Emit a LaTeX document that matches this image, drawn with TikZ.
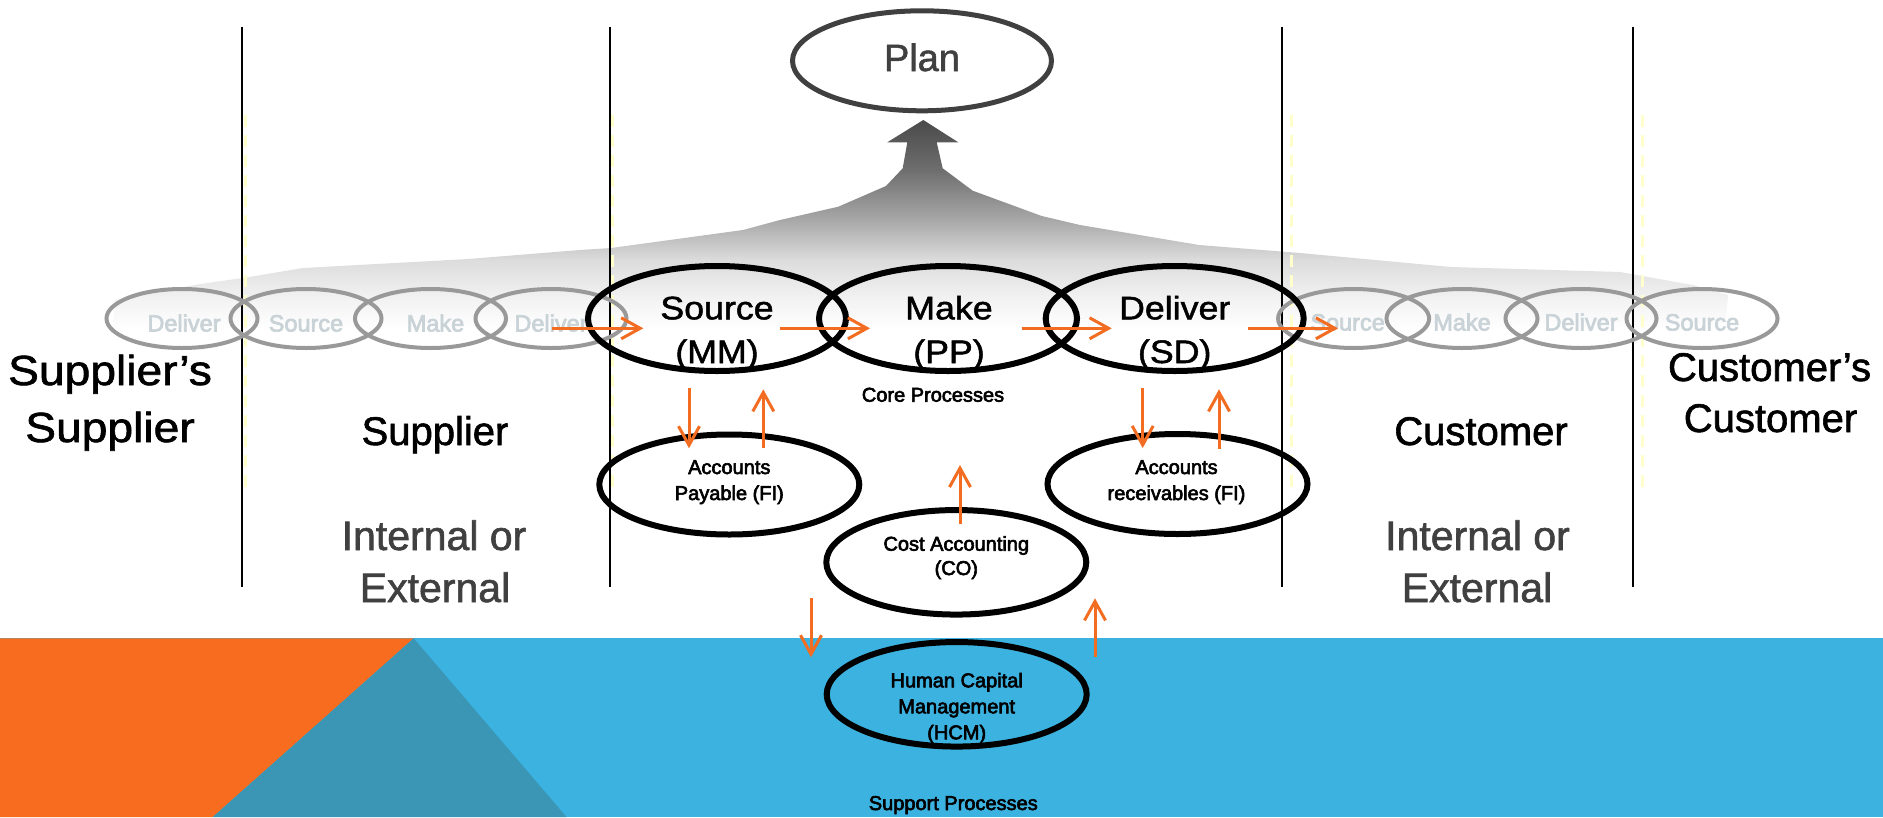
\documentclass[tikz,border=0pt]{standalone}
\usepackage{fontspec}
\setmainfont{Liberation Sans}
\newfontfamily\labfont{Liberation Sans}[FakeBold=1.5]
\newfontfamily\smallfont{Liberation Sans}[FakeBold=3]
\newfontfamily\widefont{Liberation Sans}[FakeStretch=1.1,FakeBold=1.5]
\usetikzlibrary{shapes.geometric,arrows.meta,calc}
\definecolor{oar}{HTML}{F26D21}
\definecolor{bandblue}{HTML}{3BB2E0}
\definecolor{bandorange}{HTML}{F76C1E}
\definecolor{bandteal}{HTML}{3A96B4}
\definecolor{plangray}{HTML}{404040}
\definecolor{ringgray}{HTML}{999999}
\definecolor{ghosttext}{HTML}{C9D3D7}
\definecolor{paleyellow}{HTML}{FFFFCC}
\definecolor{fanA}{HTML}{4A4A4A}
\definecolor{fanB}{HTML}{6E6E6E}
\definecolor{fanC}{HTML}{A8A8A8}
\definecolor{fanD}{HTML}{DCDCDC}
\definecolor{fanE}{HTML}{F3F3F3}
\pgfdeclareverticalshading{fanshade}{100bp}{color(0bp)=(white); color(25bp)=(white); color(32.1bp)=(fanE); color(41.7bp)=(fanD); color(51.2bp)=(fanC); color(63.1bp)=(fanB); color(75bp)=(fanA); color(100bp)=(fanA)}
\tikzset{
  mainell/.style={ellipse, draw=black, line width=6pt, minimum width=258pt, minimum height=105pt, inner sep=0pt},
  subell/.style={ellipse, draw=black, line width=6pt, minimum width=260pt, minimum height=102pt, inner sep=0pt},
  ghostell/.style={ellipse, draw=ringgray, line width=4pt, minimum width=151pt, minimum height=59pt, inner sep=0pt},
  planell/.style={ellipse, draw=plangray, line width=5pt, minimum width=259pt, minimum height=100pt, inner sep=0pt},
  oarrow/.style={draw=oar, line width=3pt, -{Straight Barb[length=19pt,width=21pt]}},
  divider/.style={draw=black, line width=2pt},
  yellowdash/.style={draw=paleyellow, line width=2.5pt, dash pattern=on 12pt off 8pt},
  leftlab/.style={anchor=base, inner sep=0pt, text=black, font=\widefont\fontsize{42}{50}\selectfont},
  biglab/.style={anchor=base, inner sep=0pt, text=black, font=\labfont\fontsize{40}{48}\selectfont},
  graylab/.style={anchor=base, inner sep=0pt, text=plangray, font=\labfont\fontsize{41}{49}\selectfont},
  mainlab/.style={anchor=base, inner sep=0pt, text=black, font=\widefont\fontsize{32.5}{38}\selectfont},
  smalllab/.style={anchor=base, inner sep=0pt, text=black, font=\smallfont\fontsize{20}{24}\selectfont},
  ghostlab/.style={anchor=base, inner sep=0pt, text=ghosttext, font=\smallfont\fontsize{23.5}{27}\selectfont},
  planlab/.style={anchor=base, inner sep=0pt, text=plangray, font=\labfont\fontsize{38}{46}\selectfont}
}
\begin{document}
\begin{tikzpicture}[x=1pt,y=-1pt]
\useasboundingbox (0,0) rectangle (1883,817);
% bottom band
\fill[bandblue] (0,638.3) rectangle (1883,817);
\fill[bandorange] (0,638.3) -- (413.7,638.3) -- (212.8,817) -- (0,817) -- cycle;
\fill[bandteal] (413.7,638.3) -- (212.8,817) -- (566.5,817) -- cycle;
% fan arrow towards Plan
\shade[shading=fanshade] (923.3,120) -- (958.3,142.3) -- (936.7,142.3) -- (942.7,168.3) -- (972.7,190.7) -- (1041.7,216) -- (1080,225) -- (1199,245) -- (1300,253) -- (1451,267) -- (1620,272) -- (1693,285) -- (1728,295) -- (1725,330) -- (113,330) -- (115,300) -- (200,284) -- (243,278) -- (303,268) -- (468,259) -- (580,250) -- (611,248) -- (743,230) -- (780,220) -- (838.3,206.7) -- (886,186) -- (902.7,168.3) -- (907.3,142.3) -- (887.3,142.3) -- cycle;
% dividers
\foreach \xx in {245.7,612.5,1291.7,1642.3} \draw[yellowdash] (\xx,115) -- (\xx,490);
\foreach \xx in {242,609.5,1282,1633.4} \draw[divider] (\xx,26.7) -- (\xx,586.7);
% Plan
\node[planell] (plan) at (922,60.8) {};
\node[planlab] (plant) at (922,71) {Plan};
% ghost chains
\node[ghostell] (gl1) at (182,318.5) {};
\node[ghostell] (gl2) at (306,318.5) {};
\node[ghostell] (gl3) at (430.5,318.5) {};
\node[ghostell] (gl4) at (551,318.5) {};
\node[ghostell] (gr1) at (1353.6,318.5) {};
\node[ghostell] (gr2) at (1462,318.5) {};
\node[ghostell] (gr3) at (1581,318.5) {};
\node[ghostell] (gr4) at (1702,318.5) {};
\node[ghostlab] (tgl1) at ($(gl1)+(2,13)$) {Deliver};
\node[ghostlab] (tgl2) at ($(gl2)+(0,13)$) {Source};
\node[ghostlab] (tgl3) at ($(gl3)+(5,13)$) {Make};
\node[ghostlab] (tgl4) at ($(gl4)+(0,13)$) {Deliver};
\node[ghostlab] (tgr1) at ($(gr1)+(-6,12)$) {Source};
\node[ghostlab] (tgr2) at ($(gr2)+(0,12)$) {Make};
\node[ghostlab] (tgr3) at ($(gr3)+(0,12)$) {Deliver};
\node[ghostlab] (tgr4) at ($(gr4)+(0,12)$) {Source};
% core processes
\node[mainell] (src) at (717,318.5) {};
\node[mainell] (make) at (948,318.5) {};
\node[mainell] (dlv) at (1174.7,318.5) {};
\node[mainlab] (tsrc1) at ($(src)+(0,0.8)$) {Source};
\node[mainlab] (tsrc2) at ($(src)+(0,44.5)$) {(MM)};
\node[mainlab] (tmake1) at ($(make)+(1,0.8)$) {Make};
\node[mainlab] (tmake2) at ($(make)+(1,44.5)$) {(PP)};
\node[mainlab] (tdlv1) at ($(dlv)+(0,0.8)$) {Deliver};
\node[mainlab] (tdlv2) at ($(dlv)+(0,44.5)$) {(SD)};
\node[smalllab] (core) at (933,401.7) {Core Processes};
% support ellipses
\node[subell, minimum height=100pt] (ap) at (729.3,484.5) {};
\node[subell, minimum height=100pt] (ar) at (1177.5,484) {};
\node[subell, minimum height=104.5pt] (co) at (956.3,562.3) {};
\node[subell, minimum height=104.5pt] (hcm) at (956.7,694.3) {};
\node[smalllab] (tap1) at ($(ap)+(0,-10.5)$) {Accounts};
\node[smalllab] (tap2) at ($(ap)+(0,15.5)$) {Payable (FI)};
\node[smalllab] (tar1) at ($(ar)+(-1,-10)$) {Accounts};
\node[smalllab] (tar2) at ($(ar)+(-1,16)$) {receivables (FI)};
\node[smalllab] (tco1) at ($(co)+(0,-11.6)$) {Cost Accounting};
\node[smalllab] (tco2) at ($(co)+(0,12.7)$) {(CO)};
\node[smalllab] (thcm1) at ($(hcm)+(0,-7)$) {Human Capital};
\node[smalllab] (thcm2) at ($(hcm)+(0,19)$) {Management};
\node[smalllab] (thcm3) at ($(hcm)+(0,45)$) {(HCM)};
\node[smalllab] (support) at (953.3,810) {Support Processes};
% column labels
\node[leftlab] (ss1) at (110,385) {Supplier’s};
\node[leftlab] (ss2) at (110,442) {Supplier};
\node[biglab] (sup) at (435,445) {Supplier};
\node[graylab] (sint) at (434,550) {Internal or};
\node[graylab] (sext) at (435,602) {External};
\node[biglab] (cus) at (1481,445) {Customer};
\node[graylab] (cint) at (1477.5,550) {Internal or};
\node[graylab] (cext) at (1477,602) {External};
\node[biglab] (cc1) at (1769.5,381) {Customer’s};
\node[biglab] (cc2) at (1770.5,432) {Customer};
% orange flows
\draw[oarrow] ($(gl4)+(0.6,9.8)$) -- ($(src)+(-73.7,9.8)$);
\draw[oarrow] ($(src)+(63,9.8)$) -- ($(make)+(-78,9.8)$);
\draw[oarrow] ($(make)+(73.7,9.8)$) -- ($(dlv)+(-63,9.8)$);
\draw[oarrow] ($(dlv)+(73.3,9.8)$) -- ($(gr1)+(-15.6,9.8)$);
\draw[oarrow] ($(src)+(-28,69.8)$) -- ($(ap)+(-40.3,-36.2)$);
\draw[oarrow] ($(ap)+(34,-36.5)$) -- ($(src)+(46.3,70.8)$);
\draw[oarrow] ($(dlv)+(-32,69.5)$) -- ($(ar)+(-34.8,-36)$);
\draw[oarrow] ($(ar)+(41.5,-35)$) -- ($(dlv)+(44.3,70.8)$);
\draw[oarrow] ($(co)+(3.7,-38.3)$) -- ($(make)+(12,146.5)$);
\draw[oarrow] ($(co)+(-145.3,36)$) -- ($(hcm)+(-145.7,-37)$);
\draw[oarrow] ($(hcm)+(138.3,-37.3)$) -- ($(co)+(138.7,36)$);
\end{tikzpicture}
\end{document}
